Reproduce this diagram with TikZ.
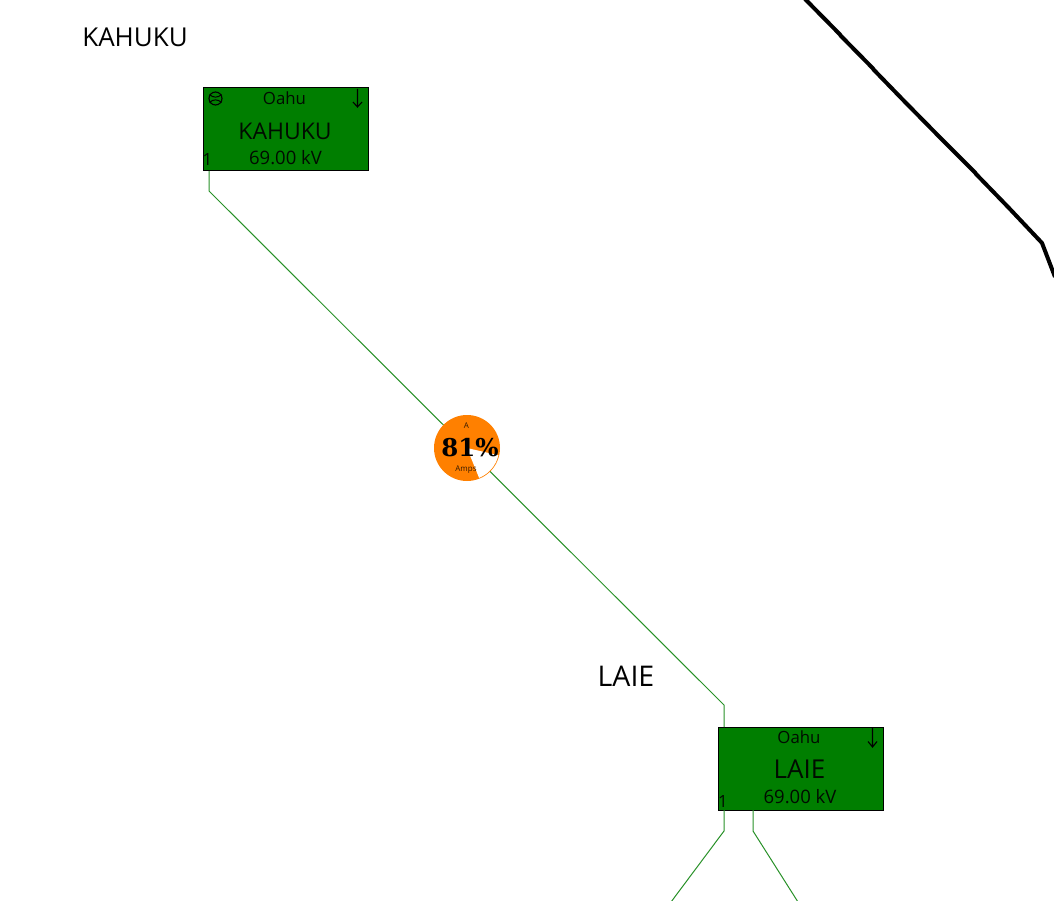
\documentclass[tikz,border=0pt]{standalone}
\usepackage{fontspec}
\setmainfont{Open Sans}
\newfontfamily\gaugefont{DejaVu Serif}
\tikzset{
  px/.style={x=1pt,y=-1pt},
  busbox/.style={draw=black,line width=1pt,fill=busgreen,minimum width=165pt,minimum height=83pt,inner sep=0pt,outer sep=0pt,anchor=north west},
  feeder/.style={draw=linegreen,line width=1pt,line join=miter},
  transmission/.style={draw=black,line width=4pt,line join=round},
  title/.style={text=black,inner sep=0pt},
  busname/.style={text=black!90!busgreen,inner sep=0pt},
  smalltxt/.style={font=\fontsize{16.8}{16.8}\selectfont,text=black!90!busgreen,inner sep=0pt},
  kvtxt/.style={font=\fontsize{18.5}{18.5}\selectfont,text=black!90!busgreen,inner sep=0pt},
  tinytxt/.style={font=\fontsize{8}{8}\selectfont,text=black!80!gaugeorange,inner sep=0pt},
  mark arrow/.style={draw=black,line width=1.1pt},
}
\definecolor{busgreen}{RGB}{0,126,0}
\definecolor{linegreen}{RGB}{40,145,40}
\definecolor{gaugeorange}{RGB}{255,128,0}
\begin{document}
\begin{tikzpicture}[px]
\useasboundingbox (0,0) rectangle (1054,901);
\clip (0,0) rectangle (1054,901);
% transmission line
\coordinate (t0) at (805,-1);
\coordinate (t1) at (1042,243);
\coordinate (t2) at (1055,277);
\draw[transmission] (t0) -- (840,34.5) -- (840.5,35.5) -- (873,68.5) -- (873.5,69.5) -- (906,103) -- (907,104) -- (940,137.5) -- (941,138.5) -- (975,172.5) -- (976,174) -- (1008,207) -- (t1) -- (t2);
% bus boxes
\node[busbox] (kahuku) at (203.5,88) {};
\node[busbox] (laie) at (718,727) {};
% feeders
\coordinate (ka) at (209,191);
\coordinate (la) at (724,705);
\coordinate (lb1) at (724,831);
\coordinate (lb2) at (671,902);
\coordinate (lc0) at (753,810);
\coordinate (lc1) at (753,831);
\coordinate (lc2) at (798,902);
\draw[feeder] (kahuku.south west -| ka) -- (ka) -- (la) -- (laie.north west -| la);
\draw[feeder] (laie.south west -| lb1) -- (lb1) -- (lb2);
\draw[feeder] (lc0) -- (lc1) -- (lc2);
% gauge
\node[circle,fill=gaugeorange,minimum size=66pt,inner sep=0pt] (gauge) at (467,448) {};
\fill[white] (gauge.center) -- ++(68:32.2) arc[start angle=68,end angle=13,radius=32.2] -- cycle;
\node[tinytxt] (ga) at (466.5,426) {A};
\node[font=\gaugefont\bfseries\fontsize{24.5}{24.5}\selectfont,inner sep=0pt] (gp) at (470,448) {81\%};
\node[tinytxt] (gb) at (466,470) {Amps};
% outside labels
\node[title,font=\fontsize{26}{26}\selectfont] (tk) at (135,37) {KAHUKU};
\node[title,font=\fontsize{28.5}{28.5}\selectfont] (tl) at (626,676) {LAIE};
% Kahuku text
\node[smalltxt] (k1) at (284.5,98) {Oahu};
\node[busname,font=\fontsize{23}{23}\selectfont] (k2) at (285,131) {KAHUKU};
\node[kvtxt] (k3) at (285.5,158) {69.00 kV};
\node[smalltxt] (k4) at (207.5,160) {1};
\draw[mark arrow] (357.5,89) -- (357.5,107) (353,102) -- (357.5,107) -- (362,102);
\draw[line width=1.1pt,black] (215.5,98.5) circle (6.5);
\draw[line width=1pt,black] (209.5,94.5) .. controls (213,98) and (218,98) .. (221.5,94.5)
  (209.5,102.5) .. controls (213,99) and (218,99) .. (221.5,102.5);
% Laie text
\node[smalltxt] (l1) at (799,737) {Oahu};
\node[busname,font=\fontsize{26}{26}\selectfont] (l2) at (799.5,769) {LAIE};
\node[kvtxt] (l3) at (800,797) {69.00 kV};
\node[smalltxt] (l4) at (723,801) {1};
\draw[mark arrow] (872.5,728) -- (872.5,747) (868,741.5) -- (872.5,747) -- (877,741.5);
\end{tikzpicture}
\end{document}
